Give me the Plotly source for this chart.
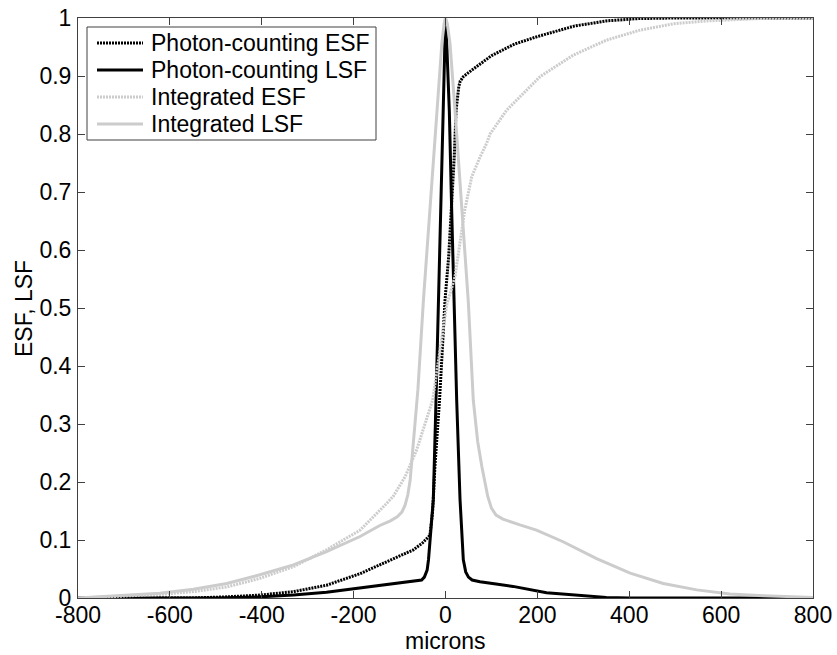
import plotly.graph_objects as go

# ---- data ----
pc_esf_x = [-800, -550, -476, -404, -331, -259, -186, -121, -70, -50, -34, -28, -23, -13, -1, 7, 13, 19, 23, 26, 29, 32, 39, 57, 100, 150, 200, 280, 350, 420, 500, 800]
pc_esf_y = [0, 0, 0.002, 0.005, 0.011, 0.022, 0.042, 0.065, 0.083, 0.095, 0.108, 0.15, 0.227, 0.341, 0.514, 0.59, 0.669, 0.76, 0.841, 0.868, 0.882, 0.891, 0.899, 0.910, 0.935, 0.955, 0.968, 0.986, 0.995, 0.999, 1.0, 1.0]

pc_lsf_x = [-800, -500, -404, -331, -259, -186, -114, -70, -52, -46, -40, -37, -32, -26.5, -20.7, -15.5, -9.8, -4.7, -2, 0, 3, 8.3, 13.4, 18.5, 24.4, 31.6, 38.8, 44, 50, 58, 75, 110, 147, 220, 293, 350, 400, 800]
pc_lsf_y = [0, 0, 0.002, 0.005, 0.010, 0.017, 0.024, 0.028, 0.031, 0.036, 0.048, 0.066, 0.11, 0.17, 0.34, 0.51, 0.67, 0.84, 0.95, 1.0, 0.95, 0.84, 0.67, 0.51, 0.34, 0.17, 0.066, 0.045, 0.036, 0.031, 0.028, 0.024, 0.020, 0.009, 0.004, 0.001, 0, 0]

int_esf_x = [-800, -767, -694, -622, -549, -476, -404, -331, -259, -186, -132, -114, -88, -63, -28, 2.5, 20.7, 31.6, 42, 57, 75, 89.6, 97, 133, 206, 278, 351, 423, 496, 569, 641, 714, 800]
int_esf_y = [0, 0.001, 0.003, 0.006, 0.011, 0.019, 0.034, 0.054, 0.083, 0.117, 0.160, 0.175, 0.209, 0.255, 0.341, 0.505, 0.554, 0.611, 0.669, 0.726, 0.76, 0.784, 0.800, 0.841, 0.899, 0.936, 0.962, 0.979, 0.990, 0.995, 0.998, 1.0, 1.0]

int_lsf_x = [-800, -694, -622, -549, -476, -404, -331, -259, -186, -143, -120, -105, -95, -88, -82, -77, -72, -66, -60, -48, -34, -19, -8, -3, 0, 4, 9.8, 20.7, 35, 49.7, 60.5, 70, 79, 85, 92, 100, 110, 125, 145, 162, 198, 256, 329, 402, 474, 547, 619, 692, 800]
int_lsf_y = [0, 0.004, 0.008, 0.015, 0.025, 0.040, 0.057, 0.080, 0.106, 0.125, 0.133, 0.140, 0.148, 0.160, 0.178, 0.203, 0.25, 0.30, 0.36, 0.514, 0.669, 0.841, 0.956, 0.99, 1.0, 0.99, 0.956, 0.841, 0.669, 0.51, 0.341, 0.27, 0.227, 0.20, 0.175, 0.155, 0.143, 0.136, 0.130, 0.126, 0.117, 0.097, 0.068, 0.043, 0.025, 0.014, 0.007, 0.004, 0.001]

x_tickvals = [-800, -600, -400, -200, 0, 200, 400, 600, 800]
x_ticktext = ["-800", "-600", "-400", "-200", "0", "200", "400", "600", "800"]
y_tickvals = [0, 0.1, 0.2, 0.3, 0.4, 0.5, 0.6, 0.7, 0.8, 0.9, 1]
y_ticktext = ["0", "0.1", "0.2", "0.3", "0.4", "0.5", "0.6", "0.7", "0.8", "0.9", "1"]

names = ["Photon-counting ESF", "Photon-counting LSF", "Integrated ESF", "Integrated LSF"]
x_title = "microns"
y_title = "ESF, LSF"

BLACK = "#000000"
GRAY = "#cccccc"
DOT = "2px,1px"
FONT = "Liberation Sans, Arial, sans-serif"
FS = 23

colors = [BLACK, BLACK, GRAY, GRAY]
dashes = [DOT, "solid", DOT, "solid"]
series = [(pc_esf_x, pc_esf_y), (pc_lsf_x, pc_lsf_y), (int_esf_x, int_esf_y), (int_lsf_x, int_lsf_y)]

fig = go.Figure()
for (xs, ys), nm, c, d in zip(series, names, colors, dashes):
    fig.add_trace(go.Scatter(x=xs, y=ys, mode="lines", name=nm,
                             line=dict(color=c, width=3, dash=d)))

# ---- legend drawn as a MATLAB-style box (paper coordinates) ----
L, T, PW, PH = 78.0, 18.0, 735.0, 580.0
def px(xpix):
    return (xpix - L) / PW
def py(ypix):
    return (T + PH - ypix) / PH

shapes = [dict(type="rect", xref="paper", yref="paper",
               x0=px(87), x1=px(376), y0=py(140), y1=py(27),
               line=dict(color="#404040", width=1), fillcolor="white", layer="above")]
annotations = []
row_y = [43, 70, 97, 124]
for ry, nm, c, d in zip(row_y, names, colors, dashes):
    shapes.append(dict(type="line", xref="paper", yref="paper",
                       x0=px(97), x1=px(143), y0=py(ry), y1=py(ry),
                       line=dict(color=c, width=3, dash=d), layer="above"))
    annotations.append(dict(xref="paper", yref="paper", x=px(149), y=py(ry),
                            xanchor="left", yanchor="middle", showarrow=False,
                            text=nm, font=dict(family=FONT, size=FS, color="black")))

# axis titles as annotations for exact placement
annotations.append(dict(xref="paper", yref="paper", x=0.5, y=py(641),
                        xanchor="center", yanchor="middle", showarrow=False,
                        text=x_title, font=dict(family=FONT, size=FS, color="black")))
annotations.append(dict(xref="paper", yref="paper", x=px(24), y=0.5,
                        xanchor="center", yanchor="middle", showarrow=False, textangle=-90,
                        text=y_title, font=dict(family=FONT, size=FS, color="black")))

axis_common = dict(
    showline=True, linecolor="#404040", linewidth=1, mirror="ticks",
    ticks="inside", ticklen=7, tickcolor="#404040", tickwidth=1,
    showgrid=False, zeroline=False, automargin=False,
    tickfont=dict(family=FONT, size=FS, color="black"),
)

fig.update_layout(
    width=837, height=655,
    margin=dict(l=78, r=24, t=18, b=57, pad=0),
    paper_bgcolor="white", plot_bgcolor="white",
    font=dict(family=FONT, size=FS, color="black"),
    showlegend=False,
    shapes=shapes, annotations=annotations,
    xaxis=dict(range=[-800, 800], tickvals=x_tickvals, ticktext=x_ticktext,
               ticklabelstandoff=-4, **axis_common),
    yaxis=dict(range=[0, 1], tickvals=y_tickvals, ticktext=y_ticktext,
               ticklabelstandoff=1, **axis_common),
)

fig.write_html("out.html")
